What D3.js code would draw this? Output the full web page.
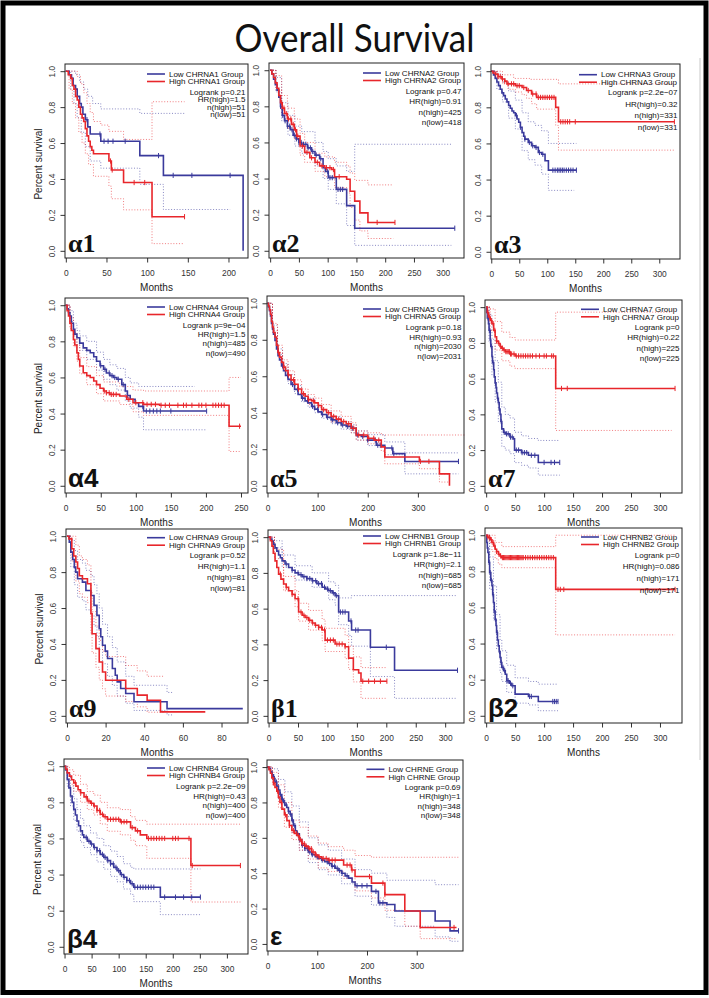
<!DOCTYPE html>
<html>
<head>
<meta charset="utf-8">
<script src="https://cdn.jsdelivr.net/npm/d3@7"></script>
<style>
  body { margin: 0; background: #fff; }
  text { font-family: 'Liberation Sans', Arial, sans-serif; }
</style>
</head>
<body>
<div id="chart"></div>
<script>
// ---- data: step points [months, survival], censor times, confidence bands ----
const a1Low = [[0,1],[4,0.98],[7,0.96],[9,0.92],[12,0.9],[14,0.86],[17,0.82],[19,0.8],[21,0.76],[24,0.73],[27,0.69],[30,0.65],[43,0.61],[91,0.53],[120,0.42],[218,0]];
const a1High = [[0,1],[3,0.98],[6,0.96],[8,0.92],[10,0.9],[12,0.86],[14,0.84],[16,0.8],[18,0.76],[20,0.74],[22,0.72],[24,0.68],[26,0.64],[28,0.61],[30,0.58],[32,0.56],[34,0.54],[53,0.5],[56,0.45],[71,0.38],[106,0.19],[146,0.19]];
const a1LowCens = [26,42,47,52,58,73,114,132,155,202];
const a1HighCens = [55,57,84,97,146];
const a1LowUp = [[0,1],[12,0.98],[17,0.94],[22,0.9],[27,0.86],[33,0.82],[43,0.79],[91,0.765],[146,0.765]];
const a1LowDn = [[0,1],[6,0.9],[10,0.82],[14,0.74],[19,0.66],[24,0.58],[30,0.5],[43,0.46],[91,0.37],[120,0.23],[202,0.23]];
const a1HighUp = [[0,1],[10,1],[14,0.97],[18,0.93],[22,0.88],[26,0.82],[30,0.77],[34,0.72],[43,0.7],[53,0.665],[71,0.62],[106,0.83],[146,0.83]];
const a1HighDn = [[0,1],[4,0.9],[8,0.82],[12,0.74],[16,0.66],[20,0.6],[24,0.54],[28,0.48],[34,0.415],[53,0.36],[56,0.29],[71,0.228],[106,0.04],[146,0.04]];

const a2Low = [[0,1],[3,0.98],[6,0.95],[9,0.92],[12,0.89],[15,0.85],[18,0.8],[21,0.75],[25,0.72],[30,0.69],[35,0.67],[40,0.64],[45,0.62],[50,0.6],[55,0.59],[65,0.57],[72,0.55],[78,0.53],[86,0.51],[92,0.46],[96,0.44],[101,0.405],[115,0.34],[133,0.25],[147,0.125],[321,0.125]];
const a2High = [[0,1],[3,0.98],[6,0.96],[9,0.93],[12,0.9],[15,0.86],[18,0.82],[21,0.79],[25,0.76],[30,0.73],[37,0.7],[42,0.67],[46,0.635],[52,0.58],[60,0.545],[69,0.515],[78,0.49],[86,0.47],[95,0.46],[107,0.45],[112,0.41],[133,0.396],[139,0.33],[147,0.275],[156,0.21],[170,0.157],[217,0.157]];
const a2LowCens = [18,22,26,30,34,38,42,46,50,54,58,62,66,70,74,80,88,100,104,108,118,122,126,321];
const a2HighCens = [20,24,28,32,36,40,44,48,56,64,72,82,90,98,104,110,120,186,217];
const a2LowUp = [[0,1],[10,0.96],[20,0.82],[31,0.75],[43,0.69],[55,0.66],[78,0.6],[92,0.55],[101,0.51],[115,0.47],[133,0.44],[147,0.59],[315,0.59]];
const a2LowDn = [[0,1],[10,0.88],[20,0.72],[31,0.64],[43,0.58],[55,0.54],[78,0.47],[92,0.4],[101,0.34],[115,0.26],[133,0.14],[147,0.03],[315,0.03]];
const a2HighUp = [[0,1],[10,0.97],[20,0.86],[30,0.79],[42,0.73],[52,0.65],[60,0.6],[78,0.54],[95,0.52],[112,0.49],[133,0.47],[139,0.43],[147,0.39],[170,0.365],[214,0.365]];
const a2HighDn = [[0,1],[10,0.89],[20,0.76],[30,0.68],[42,0.62],[52,0.53],[60,0.49],[78,0.44],[95,0.41],[112,0.35],[133,0.32],[139,0.24],[147,0.17],[156,0.11],[170,0.068],[214,0.068]];

const a3Low = [[0,1],[4,0.98],[7,0.96],[10,0.94],[13,0.92],[16,0.9],[19,0.88],[22,0.865],[25,0.846],[28,0.83],[31,0.81],[34,0.795],[37,0.78],[40,0.77],[43,0.754],[46,0.735],[49,0.717],[52,0.69],[55,0.661],[58,0.64],[60,0.624],[66,0.606],[72,0.587],[78,0.578],[84,0.55],[90,0.54],[96,0.504],[102,0.452],[152,0.452]];
const a3High = [[0,1],[3,0.99],[7,0.985],[12,0.97],[19,0.957],[24,0.945],[28,0.93],[43,0.92],[55,0.91],[63,0.893],[72,0.874],[81,0.855],[115,0.8],[120,0.72],[327,0.72]];
const a3LowCens = [45,52,60,68,74,80,86,92,110,114,118,121,124,127,130,134,138,142,146,152];
const a3HighCens = [8,12,16,20,24,30,36,40,46,50,58,66,74,80,84,88,92,96,100,104,108,112,124,128,132,136,140,150,327];
const a3LowUp = [[0,1],[10,0.985],[20,0.94],[31,0.89],[43,0.84],[55,0.77],[66,0.72],[78,0.7],[90,0.67],[102,0.6],[152,0.6]];
const a3LowDn = [[0,1],[10,0.9],[20,0.83],[31,0.74],[43,0.68],[55,0.56],[66,0.51],[78,0.48],[90,0.43],[102,0.34],[148,0.34]];
const a3HighUp = [[0,1],[20,0.98],[40,0.96],[70,0.955],[120,0.93],[327,0.93]];
const a3HighDn = [[0,1],[10,0.96],[20,0.93],[30,0.9],[43,0.885],[55,0.87],[63,0.85],[72,0.82],[81,0.79],[115,0.7],[120,0.563],[327,0.563]];

const a4Low = [[0,1],[2,0.98],[4,0.96],[6,0.94],[8,0.9],[11,0.866],[13,0.84],[16,0.82],[20,0.79],[25,0.764],[30,0.75],[35,0.737],[40,0.715],[44,0.69],[49,0.665],[54,0.645],[58,0.625],[63,0.61],[68,0.6],[73,0.59],[80,0.56],[85,0.525],[88,0.5],[92,0.479],[99,0.46],[104,0.44],[111,0.414],[201,0.414]];
const a4High = [[0,1],[2,0.97],[4,0.94],[6,0.9],[8,0.86],[11,0.81],[13,0.78],[16,0.737],[18,0.7],[20,0.663],[25,0.626],[30,0.61],[35,0.6],[40,0.58],[44,0.56],[49,0.54],[54,0.525],[58,0.515],[63,0.506],[77,0.497],[87,0.479],[96,0.46],[111,0.451],[134,0.446],[233,0.33],[250,0.33]];
const a4LowCens = [50,56,62,66,70,75,82,88,110,115,120,125,130,135,150,201];
const a4HighCens = [55,58,62,65,68,72,90,100,110,116,122,128,136,142,148,160,168,172,180,190,194,200,210,214,218,222,226,248];
const a4LowUp = [[0,1],[6,0.97],[11,0.9],[16,0.86],[20,0.83],[30,0.8],[44,0.74],[54,0.7],[63,0.67],[73,0.65],[85,0.6],[92,0.57],[104,0.55],[184,0.55]];
const a4LowDn = [[0,1],[6,0.91],[11,0.83],[16,0.78],[20,0.75],[30,0.7],[44,0.64],[54,0.59],[63,0.56],[73,0.53],[85,0.47],[92,0.43],[104,0.38],[111,0.31],[201,0.31]];
const a4HighUp = [[0,1],[6,0.93],[11,0.85],[16,0.78],[20,0.71],[30,0.66],[44,0.61],[54,0.575],[77,0.55],[96,0.53],[111,0.525],[233,0.6],[250,0.6]];
const a4HighDn = [[0,1],[6,0.87],[11,0.77],[16,0.69],[20,0.62],[30,0.56],[44,0.51],[54,0.47],[77,0.45],[96,0.41],[111,0.39],[233,0.19],[250,0.19]];

const a5Low = [[0,1],[2,0.98],[4,0.96],[6,0.93],[8,0.89],[10,0.86],[12,0.83],[15,0.796],[18,0.75],[21,0.713],[24,0.69],[28,0.657],[32,0.63],[36,0.605],[41,0.583],[47,0.555],[54,0.528],[61,0.5],[68,0.48],[75,0.465],[81,0.454],[88,0.435],[94,0.42],[101,0.405],[108,0.39],[118,0.375],[127,0.361],[137,0.345],[147,0.333],[157,0.325],[167,0.315],[177,0.278],[187,0.27],[200,0.25],[217,0.222],[234,0.207],[250,0.176],[274,0.133],[381,0.133]];
const a5High = [[0,1],[2,0.985],[4,0.965],[6,0.94],[8,0.9],[10,0.87],[12,0.84],[15,0.815],[18,0.77],[21,0.73],[24,0.705],[28,0.676],[32,0.65],[36,0.63],[41,0.607],[47,0.58],[54,0.556],[61,0.53],[68,0.504],[75,0.49],[81,0.472],[88,0.465],[94,0.454],[101,0.44],[108,0.417],[118,0.4],[127,0.38],[137,0.365],[147,0.352],[157,0.34],[167,0.315],[177,0.278],[200,0.26],[214,0.25],[227,0.213],[234,0.157],[303,0.133],[343,0.065],[363,0]];
const a5LowCens = [20,30,40,50,60,70,80,90,100,110,120,130,140,150,160,170,180,190,200,215,220,225,248,252,381];
const a5HighCens = [22,32,42,52,62,72,82,92,102,112,122,132,142,152,162,172,182,192,202,212,222,305,322];
const a5LowUp = [[0,1],[10,0.88],[20,0.75],[30,0.67],[41,0.61],[54,0.55],[68,0.5],[81,0.48],[94,0.44],[108,0.41],[127,0.38],[147,0.35],[167,0.335],[177,0.3],[200,0.28],[234,0.24],[274,0.18],[381,0.18]];
const a5LowDn = [[0,1],[10,0.84],[20,0.72],[30,0.64],[41,0.56],[54,0.505],[68,0.46],[81,0.43],[94,0.4],[108,0.37],[127,0.34],[147,0.31],[167,0.29],[177,0.25],[200,0.22],[234,0.17],[274,0.065],[381,0.065]];
const a5HighUp = [[0,1],[10,0.89],[20,0.77],[30,0.69],[41,0.63],[54,0.58],[68,0.53],[81,0.5],[94,0.48],[108,0.445],[127,0.41],[147,0.38],[167,0.345],[177,0.3],[200,0.29],[227,0.278],[393,0.278]];
const a5HighDn = [[0,1],[10,0.85],[20,0.73],[30,0.66],[41,0.58],[54,0.53],[68,0.48],[81,0.445],[94,0.43],[108,0.39],[127,0.35],[147,0.33],[167,0.29],[177,0.25],[200,0.23],[227,0.19],[234,0.12],[303,0.093],[343,0.02],[363,0.02]];

const a7Low = [[0,1],[1,0.97],[2,0.94],[4,0.908],[5,0.87],[7,0.816],[8,0.78],[10,0.724],[11,0.69],[13,0.65],[14,0.61],[15.5,0.576],[17,0.55],[18,0.52],[19.5,0.49],[21,0.466],[22.5,0.43],[24,0.4],[25.5,0.36],[27,0.319],[30,0.3],[33,0.291],[41,0.273],[47,0.263],[49,0.2],[61,0.186],[73,0.171],[90,0.131],[127,0.131]];
const a7High = [[0,1],[2,0.97],[4,0.945],[7,0.925],[10,0.908],[13,0.87],[15.5,0.834],[18,0.81],[21,0.797],[24,0.78],[27,0.77],[30,0.76],[33,0.751],[41,0.738],[50,0.727],[120,0.545],[326,0.545]];
const a7LowCens = [3,6,9,12,16,20,23,26,31,35,38,42,45,52,56,62,66,70,78,84,100,112,118,127];
const a7HighCens = [3,6,9,12,15,18,22,25,28,31,34,36,38,40,42,44,48,52,56,60,64,68,72,76,80,86,92,100,104,113,116,130,140,326];
const a7LowUp = [[0,1],[5,0.96],[10,0.82],[15.5,0.7],[21,0.58],[27,0.44],[33,0.4],[41,0.38],[49,0.3],[61,0.28],[73,0.265],[90,0.254],[127,0.254]];
const a7LowDn = [[0,1],[5,0.8],[10,0.62],[15.5,0.47],[21,0.36],[27,0.22],[33,0.2],[41,0.18],[49,0.13],[61,0.115],[73,0.1],[90,0.06],[127,0.06]];
const a7HighUp = [[0,1],[7,0.99],[15.5,0.92],[27,0.86],[41,0.83],[50,0.816],[120,0.972],[320,0.972]];
const a7HighDn = [[0,1],[7,0.87],[15.5,0.76],[27,0.7],[41,0.67],[50,0.656],[120,0.31],[320,0.31]];

const a9Low = [[0,1],[1.2,0.967],[2,0.911],[3,0.87],[3.8,0.828],[4.5,0.8],[5.5,0.763],[8,0.744],[9.8,0.698],[12.4,0.67],[14,0.615],[15.5,0.559],[16.7,0.485],[17.5,0.44],[18.4,0.393],[19.8,0.36],[21,0.319],[23.5,0.263],[25,0.226],[26,0.189],[27.8,0.152],[30.4,0.124],[34.7,0.078],[51.8,0.04],[91,0.04]];
const a9High = [[0,1],[1,0.985],[2.5,0.93],[3.5,0.89],[4.6,0.856],[5.5,0.82],[6.4,0.78],[8,0.763],[10.6,0.735],[12.4,0.569],[13,0.457],[15,0.374],[16.7,0.3],[18.4,0.244],[20,0.198],[30.4,0.152],[36.4,0.115],[41.5,0.087],[48.4,0.022],[71.6,0.022]];
const a9LowCens = [];
const a9HighCens = [];
const a9LowUp = [[0,1],[2,0.98],[3.8,0.92],[5.5,0.87],[8,0.85],[9.8,0.81],[12.4,0.78],[14,0.73],[15.5,0.68],[16.7,0.6],[18.4,0.51],[21,0.44],[23.5,0.38],[26,0.3],[30.4,0.22],[34.7,0.17],[51.8,0.13],[55,0.13]];
const a9LowDn = [[0,1],[2,0.83],[3.8,0.73],[5.5,0.66],[8,0.64],[9.8,0.59],[12.4,0.56],[14,0.5],[15.5,0.44],[16.7,0.37],[18.4,0.29],[21,0.22],[23.5,0.17],[26,0.11],[30.4,0.07],[34.7,0.03],[51.8,0.005],[55,0.005]];
const a9HighUp = [[0,1],[2.5,1],[4.6,0.95],[6.4,0.89],[8,0.87],[10.6,0.84],[12.4,0.69],[13,0.58],[15,0.5],[16.7,0.42],[18.4,0.36],[20,0.33],[30.4,0.28],[36.4,0.25],[41.5,0.22],[50,0.22]];
const a9HighDn = [[0,1],[2.5,0.86],[4.6,0.75],[6.4,0.68],[8,0.66],[10.6,0.63],[12.4,0.46],[13,0.35],[15,0.27],[16.7,0.2],[18.4,0.15],[20,0.11],[30.4,0.08],[36.4,0.05],[41.5,0.02],[50,0.02]];

const b1Low = [[0,1],[3,0.99],[5.7,0.978],[8,0.96],[11,0.94],[14,0.922],[17,0.9],[20,0.885],[23,0.867],[28,0.85],[34,0.83],[40,0.815],[45,0.8],[51,0.79],[57,0.779],[65,0.768],[74,0.756],[82,0.74],[91,0.72],[97,0.71],[102,0.7],[108,0.688],[113,0.673],[119,0.581],[136,0.531],[141,0.48],[173,0.384],[214,0.255],[321,0.255]];
const b1High = [[0,1],[3,0.98],[5.7,0.95],[8,0.91],[11,0.867],[14,0.83],[17,0.793],[21,0.765],[25.5,0.738],[30,0.72],[34,0.7],[40,0.68],[45,0.655],[51,0.581],[57,0.563],[62,0.55],[68,0.535],[74,0.52],[79,0.507],[85,0.495],[91,0.48],[96,0.424],[113,0.402],[130,0.387],[136,0.323],[144,0.258],[153,0.24],[157,0.194],[201,0.194]];
const b1LowCens = [30,40,50,55,60,65,70,75,80,85,90,95,100,105,110,115,122,126,130,140,148,152,200,321];
const b1HighCens = [20,30,40,50,55,60,65,70,75,80,85,90,95,100,105,110,116,120,125,130,160,170,180,190,201];
const b1LowUp = [[0,1],[10,0.98],[23,0.9],[45,0.84],[74,0.8],[102,0.75],[113,0.73],[119,0.66],[141,0.673],[320,0.673]];
const b1LowDn = [[0,1],[10,0.94],[23,0.83],[45,0.76],[74,0.72],[102,0.65],[113,0.62],[119,0.51],[136,0.45],[141,0.39],[173,0.22],[214,0.098],[320,0.098]];
const b1HighUp = [[0,1],[10,0.93],[25.5,0.78],[45,0.7],[51,0.63],[68,0.59],[91,0.54],[96,0.49],[130,0.45],[136,0.39],[144,0.33],[157,0.27],[200,0.27]];
const b1HighDn = [[0,1],[10,0.88],[25.5,0.7],[45,0.61],[51,0.53],[68,0.48],[91,0.42],[96,0.36],[130,0.32],[136,0.26],[144,0.19],[157,0.098],[200,0.098]];

const b2Low = [[0,1],[1,0.96],[2,0.93],[3,0.904],[4.5,0.85],[6,0.793],[8,0.75],[10,0.72],[11.3,0.67],[12.6,0.627],[14,0.58],[15.5,0.535],[17,0.5],[18,0.461],[19.5,0.42],[21,0.387],[22.5,0.355],[24,0.323],[25.5,0.295],[27,0.268],[30,0.25],[33,0.23],[35.5,0.194],[40,0.18],[44,0.166],[50,0.12],[73,0.107],[90,0.079],[124,0.079]];
const b2High = [[0,1],[2,0.99],[4,0.987],[7,0.975],[10,0.96],[13,0.94],[15.5,0.922],[18,0.91],[21,0.895],[24,0.885],[27,0.876],[120,0.7],[326,0.7]];
const b2LowCens = [5,7,9,12,14,16,19,23,26,29,32,36,38,42,46,75,78,115,118,121,124];
const b2HighCens = [3,6,9,12,15,18,22,25,28,30,32,34,36,38,40,42,44,46,48,50,52,54,56,58,60,62,64,68,72,76,80,84,88,92,96,100,104,108,112,116,124,128,134,326];
const b2LowUp = [[0,1],[6,0.88],[12.6,0.72],[18,0.56],[24,0.42],[27,0.36],[35.5,0.28],[50,0.21],[73,0.19],[90,0.175],[124,0.175]];
const b2LowDn = [[0,1],[6,0.7],[12.6,0.53],[18,0.37],[24,0.24],[27,0.19],[35.5,0.13],[50,0.07],[73,0.06],[90,0.028],[124,0.028]];
const b2HighUp = [[0,1],[15.5,0.96],[27,0.937],[120,1],[326,1]];
const b2HighDn = [[0,1],[5,0.96],[10,0.91],[15.5,0.87],[21,0.84],[27,0.82],[120,0.448],[326,0.448]];

const b4Low = [[0,1],[2,0.98],[5,0.927],[8,0.88],[11,0.835],[14,0.8],[17,0.761],[20,0.73],[23,0.697],[26,0.67],[29.5,0.642],[33,0.62],[35.6,0.606],[42,0.585],[48,0.569],[54,0.55],[60,0.532],[66,0.512],[72.5,0.495],[79,0.477],[85,0.459],[91,0.44],[97,0.422],[103,0.4],[109,0.385],[115,0.367],[122,0.349],[128,0.33],[177,0.275],[251,0.275]];
const b4High = [[0,1],[2,0.985],[5,0.963],[9,0.945],[13,0.925],[17,0.908],[21,0.89],[25,0.87],[29.5,0.853],[36,0.83],[42,0.807],[48,0.795],[54,0.78],[60,0.755],[66,0.734],[72,0.72],[79,0.706],[103,0.692],[122,0.66],[131,0.642],[140,0.62],[152,0.6],[233.5,0.45],[325,0.45]];
const b4LowCens = [40,45,50,55,60,65,70,75,80,85,90,95,100,105,110,115,120,125,130,135,140,145,150,155,160,165,185,205,220,235,251];
const b4HighCens = [20,30,40,45,50,55,60,65,70,75,80,85,90,95,100,105,110,115,125,135,155,160,165,170,175,180,185,200,205,210,230,236,325];
const b4LowUp = [[0,1],[5,0.96],[11,0.89],[17,0.82],[23,0.76],[29.5,0.71],[35.6,0.67],[48,0.63],[60,0.6],[72.5,0.56],[85,0.53],[97,0.5],[109,0.46],[122,0.44],[128,0.431],[251,0.431]];
const b4LowDn = [[0,1],[5,0.89],[11,0.78],[17,0.7],[23,0.64],[29.5,0.58],[35.6,0.55],[48,0.51],[60,0.47],[72.5,0.43],[85,0.39],[97,0.36],[109,0.32],[122,0.29],[128,0.25],[177,0.178],[251,0.178]];
const b4HighUp = [[0,1],[9,0.98],[17,0.95],[29.5,0.9],[42,0.86],[54,0.84],[66,0.8],[79,0.77],[103,0.76],[122,0.72],[131,0.7],[152,0.679],[325,0.679]];
const b4HighDn = [[0,1],[5,0.93],[9,0.9],[17,0.86],[29.5,0.8],[42,0.76],[54,0.73],[66,0.68],[79,0.64],[103,0.62],[122,0.59],[131,0.56],[152,0.49],[233.5,0.248],[325,0.248]];

const eLow = [[0,1],[3,0.99],[6,0.975],[8.7,0.957],[12,0.935],[15,0.915],[18.7,0.892],[22,0.87],[25,0.845],[28.8,0.818],[32,0.8],[35,0.785],[38.8,0.771],[42,0.75],[45.5,0.734],[49,0.7],[52,0.669],[56,0.64],[59,0.623],[64,0.59],[69,0.558],[75,0.54],[82,0.52],[89,0.505],[96,0.493],[102,0.483],[109,0.474],[115,0.465],[122,0.455],[129,0.44],[136,0.428],[142,0.415],[149,0.4],[156,0.385],[163,0.372],[170,0.35],[176,0.329],[209,0.297],[223,0.232],[240,0.223],[256,0.186],[337,0.13],[367,0.074],[384,0.074]];
const eHigh = [[0,1],[3,0.985],[6,0.965],[8.7,0.939],[12,0.91],[15,0.885],[18.7,0.864],[22,0.83],[25,0.8],[29,0.762],[34,0.73],[39,0.697],[44,0.67],[49,0.641],[54,0.625],[59,0.613],[64,0.59],[69,0.567],[75,0.553],[82,0.539],[89,0.52],[96,0.502],[102,0.492],[109,0.483],[122,0.474],[153,0.446],[169,0.418],[176,0.381],[209,0.344],[236,0.279],[276,0.186],[307,0.093],[380,0.093]];
const eLowCens = [10,14,18,22,26,30,34,38,42,46,50,55,60,65,70,75,80,85,90,100,110,120,125,130,135,140,145,150,160,180,190,200,218,226,232,384];
const eHighCens = [12,20,28,36,44,52,58,62,66,70,74,78,84,88,92,98,104,112,118,124,130,136,160,166,170,205,232,236,375];
const eLowUp = [[0,1],[10,0.99],[22,0.93],[35,0.86],[49,0.78],[64,0.69],[82,0.6],[102,0.56],[122,0.53],[149,0.48],[176,0.42],[209,0.4],[240,0.36],[337,0.335],[384,0.335]];
const eLowDn = [[0,1],[10,0.92],[22,0.82],[35,0.72],[49,0.63],[64,0.53],[82,0.46],[102,0.42],[122,0.39],[149,0.34],[176,0.27],[209,0.22],[240,0.15],[256,0.1],[337,0.04],[367,0.015],[384,0.015]];
const eHighUp = [[0,1],[10,0.97],[22,0.9],[34,0.8],[49,0.7],[64,0.66],[82,0.61],[102,0.57],[122,0.55],[153,0.53],[176,0.5],[209,0.49],[384,0.49]];
const eHighDn = [[0,1],[10,0.9],[22,0.77],[34,0.66],[49,0.59],[64,0.53],[82,0.48],[102,0.43],[122,0.41],[153,0.37],[176,0.3],[209,0.26],[236,0.19],[276,0.1],[307,0.03],[380,0.03]];

// labels and statistics, panel order
const tags    = ['α1','α2','α3','α4','α5','α7','α9','β1','β2','β4','ε'];
const genes   = ['CHRNA1','CHRNA2','CHRNA3','CHRNA4','CHRNA5','CHRNA7','CHRNA9','CHRNB1','CHRNB2','CHRNB4','CHRNE'];
const logrank = ['0.21','0.47','2.2e\u221207','9e\u221204','0.18','0','0.52','1.8e\u221211','0','2.2e\u221209','0.69'];
const hrHigh  = ['1.5','0.91','0.32','1.5','0.93','0.22','1.1','2.1','0.086','0.43','1'];
const nHigh   = ['51','425','331','485','2030','225','81','685','171','400','348'];
const nLow    = ['51','418','331','490','2031','225','81','685','171','400','348'];
const xTicks  = [
  [0,50,100,150,200], [0,50,100,150,200,250,300], [0,50,100,150,200,250,300],
  [0,50,100,150,200,250], [0,100,200,300], [0,50,100,150,200,250,300],
  [0,20,40,60,80], [0,50,100,150,200,250,300], [0,50,100,150,200,250,300],
  [0,50,100,150,200,250,300], [0,100,200,300]
];
const yTicks = [0, 0.2, 0.4, 0.6, 0.8, 1.0];

const series = [
  [a1Low,a1High,a1LowCens,a1HighCens,a1LowUp,a1LowDn,a1HighUp,a1HighDn],
  [a2Low,a2High,a2LowCens,a2HighCens,a2LowUp,a2LowDn,a2HighUp,a2HighDn],
  [a3Low,a3High,a3LowCens,a3HighCens,a3LowUp,a3LowDn,a3HighUp,a3HighDn],
  [a4Low,a4High,a4LowCens,a4HighCens,a4LowUp,a4LowDn,a4HighUp,a4HighDn],
  [a5Low,a5High,a5LowCens,a5HighCens,a5LowUp,a5LowDn,a5HighUp,a5HighDn],
  [a7Low,a7High,a7LowCens,a7HighCens,a7LowUp,a7LowDn,a7HighUp,a7HighDn],
  [a9Low,a9High,a9LowCens,a9HighCens,a9LowUp,a9LowDn,a9HighUp,a9HighDn],
  [b1Low,b1High,b1LowCens,b1HighCens,b1LowUp,b1LowDn,b1HighUp,b1HighDn],
  [b2Low,b2High,b2LowCens,b2HighCens,b2LowUp,b2LowDn,b2HighUp,b2HighDn],
  [b4Low,b4High,b4LowCens,b4HighCens,b4LowUp,b4LowDn,b4HighUp,b4HighDn],
  [eLow,eHigh,eLowCens,eHighCens,eLowUp,eLowDn,eHighUp,eHighDn]
];

// ---- layout: plot box [left, top, right, bottom], x domain, legend spacing ----
const layout = [
  { box: [65, 64, 248, 258],  xd: [-1, 224],   ylab: true,  serif: true,  lgTop: 10,   lg: 7.4 },
  { box: [269, 63, 464, 258], xd: [-2, 337],   ylab: false, serif: true,  lgTop: 10,   lg: 10.5 },
  { box: [491, 64, 680, 259], xd: [-0.5, 337], ylab: false, serif: true,  lgTop: 10.7, lg: 11.4 },
  { box: [65, 298, 248, 493], xd: [-1, 260],   ylab: true,  serif: false, lgTop: 9,    lg: 9.3 },
  { box: [267, 296, 464, 493],xd: [-1, 392],   ylab: false, serif: true,  lgTop: 13,   lg: 9.8 },
  { box: [485, 300, 682, 493],xd: [-2, 338],   ylab: false, serif: true,  lgTop: 9.3,  lg: 10.3 },
  { box: [66, 529, 248, 723], xd: [-0.5, 93.7],ylab: true,  serif: true,  lgTop: 8.7,  lg: 10.8 },
  { box: [268, 530, 464, 723],xd: [-1, 332],   ylab: false, serif: true,  lgTop: 6,    lg: 10.5 },
  { box: [485, 528, 682, 723],xd: [-2, 338],   ylab: false, serif: false, lgTop: 9,    lg: 11.6 },
  { box: [64, 759, 248, 954], xd: [-1, 339],   ylab: true,  serif: false, lgTop: 9,    lg: 9.8 },
  { box: [267, 760, 463, 951],xd: [-1, 393],   ylab: false, serif: false, lgTop: 9.3,  lg: 9.4 }
];

const BLUE = '#3a3a9c', RED = '#e8262b';

const svg = d3.select('#chart').append('svg')
  .attr('width', 709).attr('height', 998);

svg.append('rect').attr('width', 709).attr('height', 998).attr('fill', '#fff');

svg.append('text')
  .attr('x', 354.5).attr('y', 52)
  .attr('text-anchor', 'middle')
  .style('font-family', "Lato, 'Open Sans', sans-serif")
  .style('font-size', '38px')
  .attr('textLength', 240).attr('lengthAdjust', 'spacingAndGlyphs')
  .attr('fill', '#111')
  .text('Overall Survival');

function survAt(curve, t) {
  let v = curve[0][1];
  for (const [tt, s] of curve) { if (tt <= t) v = s; else break; }
  return v;
}

function drawPanel(i) {
  const L = layout[i];
  const [low, high, lowCens, highCens, lowUp, lowDn, highUp, highDn] = series[i];
  const [left, top, right, bottom] = L.box;
  const x = d3.scaleLinear().domain(L.xd).range([left, right]);
  const y = d3.scaleLinear().domain([-0.04, 1.04]).range([bottom, top]);
  const g = svg.append('g');
  const line = d3.line().curve(d3.curveStepAfter).x(d => x(d[0])).y(d => y(d[1]));

  // confidence bands
  [[lowUp, BLUE], [lowDn, BLUE], [highUp, RED], [highDn, RED]].forEach(([d, c]) => {
    g.append('path').attr('d', line(d))
      .attr('fill', 'none').attr('stroke', c).attr('stroke-width', 0.8)
      .attr('stroke-dasharray', '1,1.8').attr('opacity', 0.75);
  });

  // survival curves and censor marks
  [[low, lowCens, BLUE], [high, highCens, RED]].forEach(([d, cens, c]) => {
    g.append('path').attr('d', line(d))
      .attr('fill', 'none').attr('stroke', c).attr('stroke-width', 1.6);
    g.selectAll(null).data(cens).enter().append('line')
      .attr('x1', t => x(t)).attr('x2', t => x(t))
      .attr('y1', t => y(survAt(d, t)) - 2.6).attr('y2', t => y(survAt(d, t)) + 2.6)
      .attr('stroke', c).attr('stroke-width', 1);
  });

  // axes
  const xa = g.append('g').attr('transform', `translate(0,${bottom})`)
    .call(d3.axisBottom(x).tickValues(xTicks[i]).tickSize(4.5).tickPadding(8).tickFormat(d3.format('d')));
  const ya = g.append('g').attr('transform', `translate(${left},0)`)
    .call(d3.axisLeft(y).tickValues(yTicks).tickSize(4.5).tickFormat(d3.format('.1f')));
  [xa, ya].forEach(a => {
    a.select('.domain').remove();
    a.selectAll('line').attr('stroke', '#333');
    a.selectAll('text').attr('fill', '#333').style('font-size', '8.4px').style('font-family', "'Liberation Sans', Arial, sans-serif");
  });
  ya.selectAll('text')
    .attr('x', null).attr('dy', null)
    .attr('text-anchor', 'middle')
    .attr('transform', 'translate(-10.4,0) rotate(-90)');

  // plot box
  g.append('rect').attr('x', left).attr('y', top)
    .attr('width', right - left).attr('height', bottom - top)
    .attr('fill', 'none').attr('stroke', '#222').attr('stroke-width', 1);

  // axis titles
  g.append('text').attr('x', (left + right) / 2).attr('y', bottom + 32.5)
    .attr('text-anchor', 'middle').style('font-size', '10px').attr('fill', '#222')
    .text('Months');
  if (L.ylab) {
    g.append('text')
      .attr('transform', `translate(${left - 23},${(top + bottom) / 2 + 3}) rotate(-90)`)
      .attr('text-anchor', 'middle').style('font-size', '10px').attr('fill', '#222')
      .text('Percent survival');
  }

  // legend
  const yLow = top + L.lgTop, yHigh = yLow + 7.5;
  const hiText = g.append('text').attr('y', yHigh + 2.7).style('font-size', '8px').attr('fill', '#111')
    .text(`High ${genes[i]} Group`);
  const w = hiText.node().getComputedTextLength();
  const tx = right - 3 - w;
  hiText.attr('x', tx);
  g.append('text').attr('x', tx).attr('y', yLow + 2.7).style('font-size', '8px').attr('fill', '#111')
    .text(`Low ${genes[i]} Group`);
  [[yLow, BLUE], [yHigh, RED]].forEach(([yy, c]) => {
    g.append('line').attr('x1', tx - 22).attr('x2', tx - 4).attr('y1', yy).attr('y2', yy)
      .attr('stroke', c).attr('stroke-width', 1.6);
  });
  const stats = [`Logrank p=${logrank[i]}`, `HR(high)=${hrHigh[i]}`, `n(high)=${nHigh[i]}`, `n(low)=${nLow[i]}`];
  stats.forEach((s, k) => {
    g.append('text').attr('x', right - 2.5).attr('y', yHigh + 10.5 + k * L.lg + 2.7)
      .attr('text-anchor', 'end').style('font-size', '8px').attr('fill', '#111')
      .text(s);
  });

  // panel tag
  g.append('text').attr('x', left + 3).attr('y', bottom - 6)
    .style('font-family', L.serif ? "'Liberation Serif', 'DejaVu Serif', serif" : "'Liberation Sans', 'DejaVu Sans', sans-serif")
    .style('font-size', '26px').style('font-weight', 'bold').attr('fill', '#111')
    .text(tags[i]);
}

layout.forEach((L, i) => drawPanel(i));

// faint frames of the right-hand source images
svg.append('line').attr('x1', 700).attr('x2', 700).attr('y1', 58).attr('y2', 760)
  .attr('stroke', '#c8c8c8').attr('stroke-width', 1);

// outer frame
svg.append('rect').attr('x', 3).attr('y', 3).attr('width', 703).attr('height', 989.5)
  .attr('fill', 'none').attr('stroke', '#000').attr('stroke-width', 5);
</script>
</body>
</html>
